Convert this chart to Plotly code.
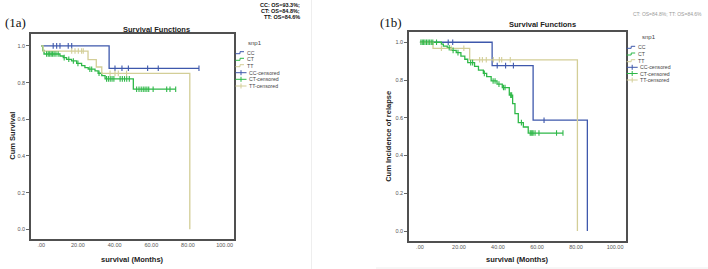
import plotly.graph_objects as go

# ---------------- data ----------------
groups = ["CC", "CT", "TT"]
colors = {"CC": "#3E58AC", "CT": "#2EB848", "TT": "#D3CE97"}
x_tickvals = [0, 20, 40, 60, 80, 100]
x_ticktext = [".00", "20.00", "40.00", "60.00", "80.00", "100.00"]
y_tickvals = [0.0, 0.2, 0.4, 0.6, 0.8, 1.0]

# Panel (1a) : Cum Survival
a_CC_t = [0, 37.0]
a_CC_s = [1.0, 0.878]
a_CC_c = [6.5, 8.4, 10.2, 14.7, 16.6, 40.2, 44.0, 47.5, 58.0, 63.8, 86.0]

a_CT_t = [0, 0.8, 1.5, 10.2, 12.0, 13.8, 16.5, 19.3, 22.0, 23.8, 25.6, 29.3, 31.0, 33.0, 34.8, 50.2]
a_CT_s = [1.0, 0.975, 0.956, 0.945, 0.936, 0.927, 0.918, 0.905, 0.892, 0.882, 0.873, 0.864, 0.851, 0.838, 0.82, 0.764]
a_CT_c = [2.9, 3.8, 4.6, 5.4, 6.2, 7.0, 8.0, 9.2, 12.5, 15.0, 17.5, 20.0, 26.5, 27.5, 31.5,
          35.6, 36.6, 37.6, 38.6, 39.6, 43.0, 44.2, 45.4, 46.6, 48.0, 52.0, 53.3, 54.5, 55.6,
          56.6, 57.6, 58.6, 61.0, 68.4, 70.2, 73.3]

a_TT_t = [0, 1.0, 25.5, 30.0, 33.0, 81.0]
a_TT_s = [1.0, 0.972, 0.925, 0.885, 0.85, 0.0]
a_TT_c = [16.6, 18.4, 20.2, 22.0, 22.9, 37.5, 40.2, 42.0, 46.5]

# Panel (1b) : Cum Incidence of relapse
b_CC_t = [0, 37.0, 58.0, 85.8]
b_CC_s = [1.0, 0.876, 0.587, 0.0]
b_CC_c = [14.5, 16.8, 39.6, 43.9, 47.9, 63.6]

b_CT_t = [0, 11.0, 12.0, 14.0, 16.0, 18.6, 21.0, 23.0, 24.5, 28.0, 30.0, 32.5, 34.2, 36.5,
          39.5, 42.2, 45.8, 47.5, 48.7, 50.4, 53.0, 55.5]
b_CT_s = [1.0, 0.99, 0.98, 0.971, 0.957, 0.945, 0.927, 0.91, 0.892, 0.872, 0.852, 0.835, 0.818,
          0.795, 0.778, 0.76, 0.72, 0.675, 0.622, 0.574, 0.551, 0.519]
b_CT_c = [0.5, 1.2, 1.9, 2.6, 3.4, 4.2, 5.0, 5.8, 6.6, 8.5, 15.0, 17.0, 19.5, 26.0, 27.0, 33.0,
          37.5, 38.5, 40.5, 42.8, 43.6, 46.5, 47.0, 52.0, 56.5, 57.0, 57.5, 58.0, 59.0, 61.0,
          70.0, 73.3]

b_TT_t = [0, 6.7, 25.5, 80.7]
b_TT_s = [1.0, 0.968, 0.907, 0.0]
b_TT_c = [11.0, 16.0, 22.5, 30.6, 32.0, 34.0, 37.6, 40.7, 41.9, 46.3]

panel_a = {"CC": (a_CC_t, a_CC_s, a_CC_c), "CT": (a_CT_t, a_CT_s, a_CT_c), "TT": (a_TT_t, a_TT_s, a_TT_c)}
panel_b = {"CC": (b_CC_t, b_CC_s, b_CC_c), "CT": (b_CT_t, b_CT_s, b_CT_c), "TT": (b_TT_t, b_TT_s, b_TT_c)}

legend_labels = ["CC", "CT", "TT", "CC-censored", "CT-censored", "TT-censored"]
os_text = ["CC: OS=93.3%;", "CT: OS=84.8%;", "TT: OS=84.6%"]

# ---------------- helpers ----------------
W, H = 708, 269
def PX(x):
    return x / W
def PY(y):
    return 1 - y / H

def step_at(t_list, s_list, t):
    val = s_list[0]
    for tt, ss in zip(t_list, s_list):
        if tt <= t:
            val = ss
    return val

fig = go.Figure()

def add_panel(data, xa, ya):
    for g in groups:
        t, s, c = data[g]
        end = max(t[-1], max(c))
        xs = list(t) + [end]
        ys = list(s) + [s[-1]]
        fig.add_trace(go.Scatter(x=xs, y=ys, mode="lines", line=dict(shape="hv", color=colors[g], width=1.3),
                                 xaxis=xa, yaxis=ya, showlegend=False, hoverinfo="skip"))
    for g in groups:
        t, s, c = data[g]
        cy = [step_at(t, s, v) for v in c]
        fig.add_trace(go.Scatter(x=c, y=cy, mode="markers",
                                 marker=dict(symbol="line-ns", size=4, line=dict(color=colors[g], width=1.1)),
                                 xaxis=xa, yaxis=ya, showlegend=False, hoverinfo="skip"))

add_panel(panel_a, "x", "y")
add_panel(panel_b, "x2", "y2")

axis_font = dict(family="Liberation Sans, Arial, sans-serif", size=5.5, color="#555555")
common_x = dict(tickvals=x_tickvals, ticktext=x_ticktext, showgrid=False, zeroline=False, showline=True,
                mirror=True, linecolor="#505050", linewidth=1.5, ticks="", tickfont=axis_font)
common_y = dict(tickvals=y_tickvals, tickformat=".1f", showgrid=False, zeroline=False, showline=True,
                mirror=True, linecolor="#505050", linewidth=1.5, ticks="outside", ticklen=3,
                tickcolor="#666666", tickwidth=1, tickfont=axis_font)

fig.update_layout(
    width=W, height=H, margin=dict(l=0, r=0, t=0, b=0),
    paper_bgcolor="white", plot_bgcolor="white", showlegend=False,
    xaxis=dict(common_x, domain=[PX(31), PX(234)], range=[-5.6, 105.1], anchor="y"),
    yaxis=dict(common_y, domain=[PY(239), PY(34)], range=[-0.053, 1.065], anchor="x"),
    xaxis2=dict(common_x, domain=[PX(409), PX(626)], range=[-5.6, 105.6], anchor="y2"),
    yaxis2=dict(common_y, domain=[PY(241), PY(31.7)], range=[-0.053, 1.056], anchor="x2"),
)

ann = []
shapes = []
bold = dict(family="Liberation Sans, Arial, sans-serif", size=7.5, color="#222222")

def text(x, y, s, font, xanchor="center", angle=0):
    ann.append(dict(x=PX(x), y=PY(y), xref="paper", yref="paper", text=s, showarrow=False,
                    font=font, xanchor=xanchor, yanchor="middle", textangle=angle))

# titles
text(156.7, 29, "<b>Survival Functions</b>", bold)
text(542.8, 25, "<b>Survival Functions</b>", bold)
text(132.8, 259, "<b>survival (Months)</b>", bold)
text(517, 259.3, "<b>survival (Months)</b>", bold)
text(11.7, 136, "<b>Cum Survival</b>", bold, angle=-90)
text(388.3, 136.5, "<b>Cum Incidence of relapse</b>", bold, angle=-90)

serif = dict(family="Liberation Serif, Times New Roman, serif", size=13, color="#111111")
text(3, 22, "(1a)", serif, xanchor="left")
text(378, 22, "(1b)", serif, xanchor="left")

small = dict(family="Liberation Sans, Arial, sans-serif", size=5.5, color="#111111")
for i, s in enumerate(os_text):
    text(302, 4.5 + 6.2 * i, "<b>" + s + "</b>", small, xanchor="right")
text(704, 14, "CT: OS=84.8%; TT: OS=84.6%",
     dict(family="Liberation Sans, Arial, sans-serif", size=5, color="#9a9a9a"), xanchor="right")

# manual legends
leg_font = dict(family="Liberation Sans, Arial, sans-serif", size=5.2, color="#444444")
def legend(x0, title_x, title_y, ys):
    text(title_x, title_y, "snp1", dict(family="Liberation Sans, Arial, sans-serif", size=6, color="#444444"))
    for i, lab in enumerate(legend_labels):
        y = ys[i]
        g = groups[i % 3]
        if i < 3:
            path = "M {} {} L {} {} L {} {} L {} {}".format(
                PX(x0), PY(y + 1), PX(x0 + 4.5), PY(y + 1), PX(x0 + 4.5), PY(y - 1), PX(x0 + 8.5), PY(y - 1))
            shapes.append(dict(type="path", path=path, xref="paper", yref="paper",
                               line=dict(color=colors[g], width=1)))
            text(x0 + 9, y, lab, leg_font, xanchor="left")
        else:
            shapes.append(dict(type="line", x0=PX(x0), x1=PX(x0 + 11), y0=PY(y), y1=PY(y),
                               xref="paper", yref="paper", line=dict(color=colors[g], width=1)))
            shapes.append(dict(type="line", x0=PX(x0 + 5.5), x1=PX(x0 + 5.5), y0=PY(y - 2.5), y1=PY(y + 2.5),
                               xref="paper", yref="paper", line=dict(color=colors[g], width=1)))
            text(x0 + 11.5, y, lab, leg_font, xanchor="left")

legend(235.5, 255, 42.7, [52.7, 59.3, 65.7, 72.7, 79.3, 86.0])
legend(626.7, 649.3, 37.3, [47.3, 54.0, 60.7, 67.3, 73.5, 80.0])

# faint page borders
shapes.append(dict(type="line", x0=PX(311.5), x1=PX(311.5), y0=0, y1=1, xref="paper", yref="paper",
                   line=dict(color="#eeeeee", width=1)))
shapes.append(dict(type="line", x0=PX(376), x1=1, y0=PY(268), y1=PY(268), xref="paper", yref="paper",
                   line=dict(color="#eeeeee", width=1)))

fig.update_layout(annotations=ann, shapes=shapes)
fig.write_html("out.html", config={"displayModeBar": False},
               post_script="document.body.style.margin='0';document.body.style.padding='0';document.body.style.overflow='hidden';")
